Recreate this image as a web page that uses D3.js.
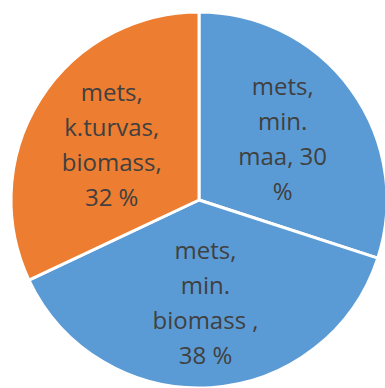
<!DOCTYPE html>
<html>
<head>
<meta charset="utf-8">
<script src="https://cdn.jsdelivr.net/npm/d3@7"></script>
<style>
    html, body { margin: 0; padding: 0; background: #fff; }
    #chart { width: 385px; height: 388px; }
</style>
</head>
<body>
<div id="chart"></div>
<script>
// slices, clockwise from 12 o'clock
const labels = [
    ["mets,", "min.", "maa, 30", "%"],
    ["mets,", "min.", "biomass ,", "38 %"],
    ["mets,", "k.turvas,", "biomass,", "32 %"]
];
const values = [30, 38, 32];
const colors = ["#5b9bd5", "#5b9bd5", "#ed7d31"];

const W = 385, H = 388;
const cx = 199, cy = 200, R = 188;
const lineH = 35;

const svg = d3.select("#chart")
    .append("svg")
    .attr("width", W)
    .attr("height", H);

const g = svg.append("g")
    .attr("transform", `translate(${cx}, ${cy})`);

const pie = d3.pie().sort(null).value(d => d);
const arcs = pie(values);

const arc = d3.arc().innerRadius(0).outerRadius(R);
const labelArc = d3.arc().innerRadius(0).outerRadius(R * 1.1);

g.selectAll("path.slice")
    .data(arcs)
    .enter()
    .append("path")
    .attr("class", "slice")
    .attr("d", arc)
    .attr("fill", (d, i) => colors[i])
    .attr("stroke", "#fff")
    .attr("stroke-width", 3)
    .attr("stroke-linejoin", "round");

// wrapped labels, block centered on the label point
arcs.forEach((a, i) => {
    const [lx, ly] = labelArc.centroid(a);
    const lines = labels[i];
    const top = ly - (lines.length - 1) * lineH / 2;
    const t = g.append("text")
        .attr("text-anchor", "middle")
        .attr("font-family", "'Open Sans', sans-serif")
        .attr("font-size", 24)
        .attr("fill", "#404040");
    lines.forEach((s, k) => {
        t.append("tspan")
            .attr("x", lx)
            .attr("y", top + k * lineH)
            .attr("dy", "0.35em")
            .text(s);
    });
});
</script>
</body>
</html>
